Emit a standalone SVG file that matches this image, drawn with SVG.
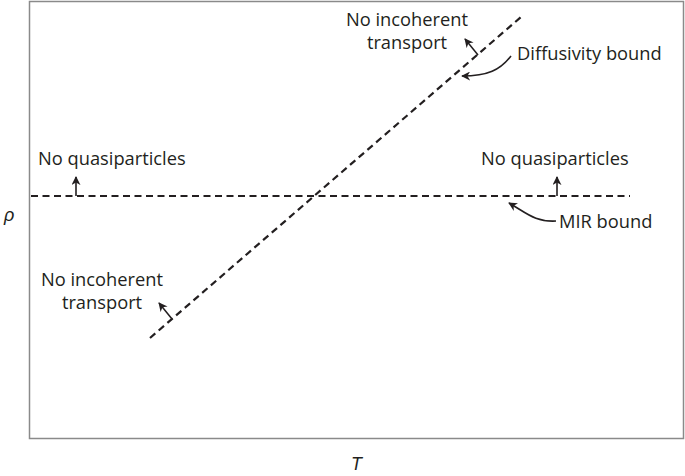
<svg xmlns="http://www.w3.org/2000/svg" width="685" height="476" viewBox="0 0 685 476">
<defs>
<marker id="ah" viewBox="0 0 10 10" refX="9" refY="5" markerWidth="9" markerHeight="9" markerUnits="userSpaceOnUse" orient="auto">
<path d="M0,0 L10,5 L0,10 L3,5 Z" fill="#231f20"/>
</marker>
<style>
.t{font-family:"Open Sans","Liberation Sans",sans-serif;font-size:18.3px;fill:#231f20}
.i{font-family:"Liberation Sans",sans-serif;font-size:18px;font-style:italic;fill:#231f20}
.d{stroke:#231f20;stroke-width:2.2;stroke-dasharray:7 4.5;fill:none}
.a{stroke:#231f20;stroke-width:1.6;fill:none;marker-end:url(#ah)}
</style>
</defs>
<rect width="685" height="476" fill="#fff"/>
<rect x="29.5" y="1.5" width="654" height="437" fill="none" stroke="#8a8a8a" stroke-width="1.5"/>
<text class="i" x="4" y="221">ρ</text>
<text class="i" x="351" y="470">T</text>
<g id="connectors">
<line id="mir-line" class="d" x1="31" y1="196" x2="630" y2="196"/>
<line id="diff-line" class="d" x1="150" y1="338" x2="521" y2="17"/>
<path class="a" d="M76,196 V177"/>
<path class="a" d="M557,196 V177"/>
<path class="a" d="M478,55 L465,39"/>
<path class="a" d="M172,319 L159,303"/>
<path class="a" d="M511,56 C500,70 488,76 462,76"/>
<path class="a" d="M556,221 C535,222 528,214 509,203"/>
</g>
<g id="nq-left"><text class="t" x="38" y="165">No quasiparticles</text></g>
<g id="nq-right"><text class="t" x="481" y="165">No quasiparticles</text></g>
<g id="ni-top"><text class="t" text-anchor="middle" x="407" y="26">No incoherent</text><text class="t" text-anchor="middle" x="407" y="49">transport</text></g>
<g id="diffusivity"><text class="t" x="517" y="60">Diffusivity bound</text></g>
<g id="mir"><text class="t" x="559" y="228">MIR bound</text></g>
<g id="ni-bottom"><text class="t" text-anchor="middle" x="102" y="286">No incoherent</text><text class="t" text-anchor="middle" x="102" y="309">transport</text></g>
</svg>
